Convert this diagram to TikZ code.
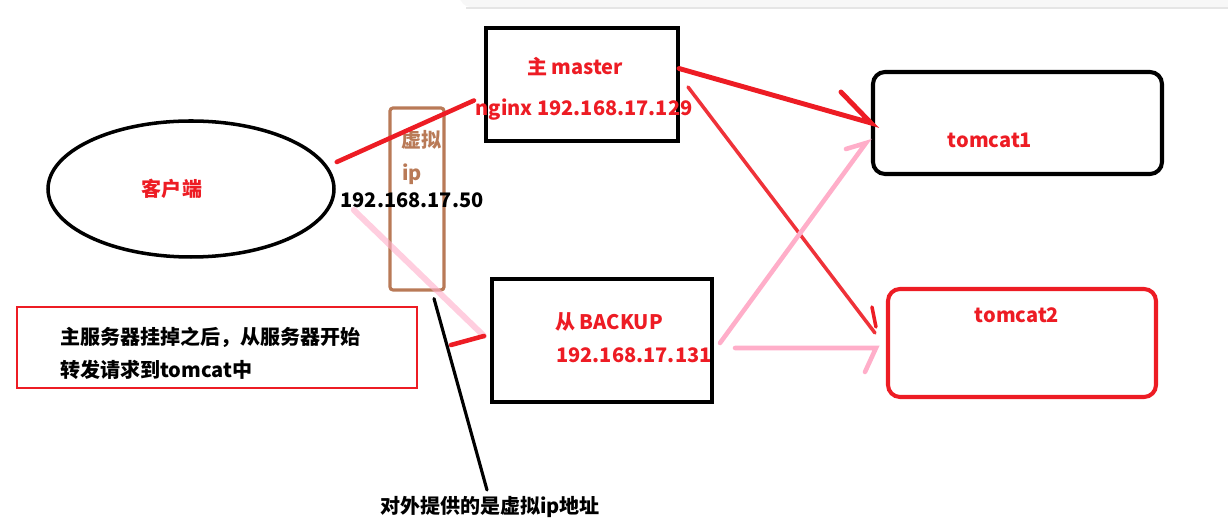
\documentclass[tikz,border=0pt]{standalone}
\usepackage{fontspec}
\setmainfont{Noto Sans CJK SC}
\usetikzlibrary{shapes.geometric,calc}
\definecolor{paintred}{HTML}{ED1C24}
\definecolor{paintpink}{HTML}{FFAEC9}
\definecolor{paintbrown}{HTML}{B97A57}

\begin{document}
\begin{tikzpicture}[x=0.02cm,y=-0.02cm,
    lbl/.style={inner sep=0,font=\bfseries\fontsize{11.4}{14}\selectfont,text=paintred},
    blk/.style={lbl,text=black},
    redline/.style={paintred,line width=2.6pt,line cap=round},
    pinkline/.style={paintpink,line width=2.6pt,line cap=round}]
    % Pixel unit
    \def\px{0.02cm}
    \useasboundingbox (0,0) rectangle (1228,519);

    % Window edge at the top
    \fill[black!3,rounded corners=6] (460,-10) rectangle (1240,7);
    \draw[black!10,line width=1pt] (466,8) -- (1228,8);

    % Client and servers
    \node[ellipse,draw,line width=2pt,minimum width=286*\px,minimum height=136*\px] (client) at (191,189) {};
    \node[draw,line width=2.3pt,minimum width=192*\px,minimum height=113*\px] (master) at (582,84.5) {};
    \node[draw,line width=2.3pt,minimum width=220*\px,minimum height=123*\px] (backup) at (602,340.5) {};
    \node[draw,line width=2.3pt,rounded corners=12*\px,minimum width=289*\px,minimum height=102*\px] (tomcat1) at (1017.5,123) {};
    \node[draw=paintred,line width=2.3pt,rounded corners=12*\px,minimum width=268*\px,minimum height=108*\px] (tomcat2) at (1022,343) {};
    \node[draw=paintbrown,line width=1.8pt,rounded corners=3*\px,minimum width=54*\px,minimum height=182*\px] (vip) at (417,199) {};
    \node[draw=paintred,line width=1.7pt,minimum width=400*\px,minimum height=81*\px] (failnote) at (217,347.5) {};

    % Labels
    \node[lbl] (clientlbl) at (172,189) {客户端};
    \node[lbl] (masterlbl) at (575,67) {主 master};
    \node[lbl] (masterip) at (584,110) {nginx 192.168.17.129};
    \node[lbl,anchor=west] (backuplbl) at (555,322) {从 BACKUP};
    \node[lbl,anchor=west] (backupip) at (556,355) {192.168.17.131};
    \node[lbl] (tomcat1lbl) at (990,140) {tomcat1};
    \node[lbl] (tomcat2lbl) at (1017,315) {tomcat2};
    \node[lbl,text=paintbrown,anchor=west] (viplbl) at (401,140) {虚拟};
    \node[lbl,text=paintbrown,anchor=west] (vipip) at (402,174) {ip};
    \node[blk] (vipaddr) at (412,200) {192.168.17.50};
    \node[blk,anchor=west] (failline1) at (60,337) {主服务器挂掉之后，从服务器开始};
    \node[blk,anchor=west] (failline2) at (60,370) {转发请求到tomcat中};
    \node[blk] (vipnote) at (490,507) {对外提供的是虚拟ip地址};

    % Connectors
    \draw[redline] ($(client.east)+(1,-27)$) -- ($(master.west)+(-10,16)$);
    \draw[pinkline,line width=3.4pt,opacity=0.6] ($(client.east)+(18,21)$) coordinate (c1) -- ($(backup.west)+(-6,-4.5)$) coordinate (b1);
    \draw[redline] (b1) -- ++(-33,9);
    \draw[redline,line width=2.8pt] ($(master.east)+(-1,-16)$) -- (tomcat1.west) coordinate (t1) -- ++(-30,-31);
    \draw[redline,line width=2pt,opacity=0.9] ($(master.east)+(8,2.5)$) -- ($(tomcat2.west)+(-11,-10)$) coordinate (t2);
    \draw[redline,line width=2pt] ($(t2)+(-3,-26)$) -- ++(4,20);
    \draw[pinkline] ($(backup.east)+(6,2.5)$) -- ($(tomcat1.west)+(-5,20)$) coordinate (t3) -- ++(-20,6);
    \draw[pinkline] ($(backup.east)+(21,7.5)$) -- ($(tomcat2.west)+(-10,5)$) coordinate (t4) -- ++(-11,24);
    \draw[line width=1.8pt,line cap=round] ($(vip.south)+(17,7)$) -- ($(vipnote.north)+(-3,-6)$);
\end{tikzpicture}
\end{document}
